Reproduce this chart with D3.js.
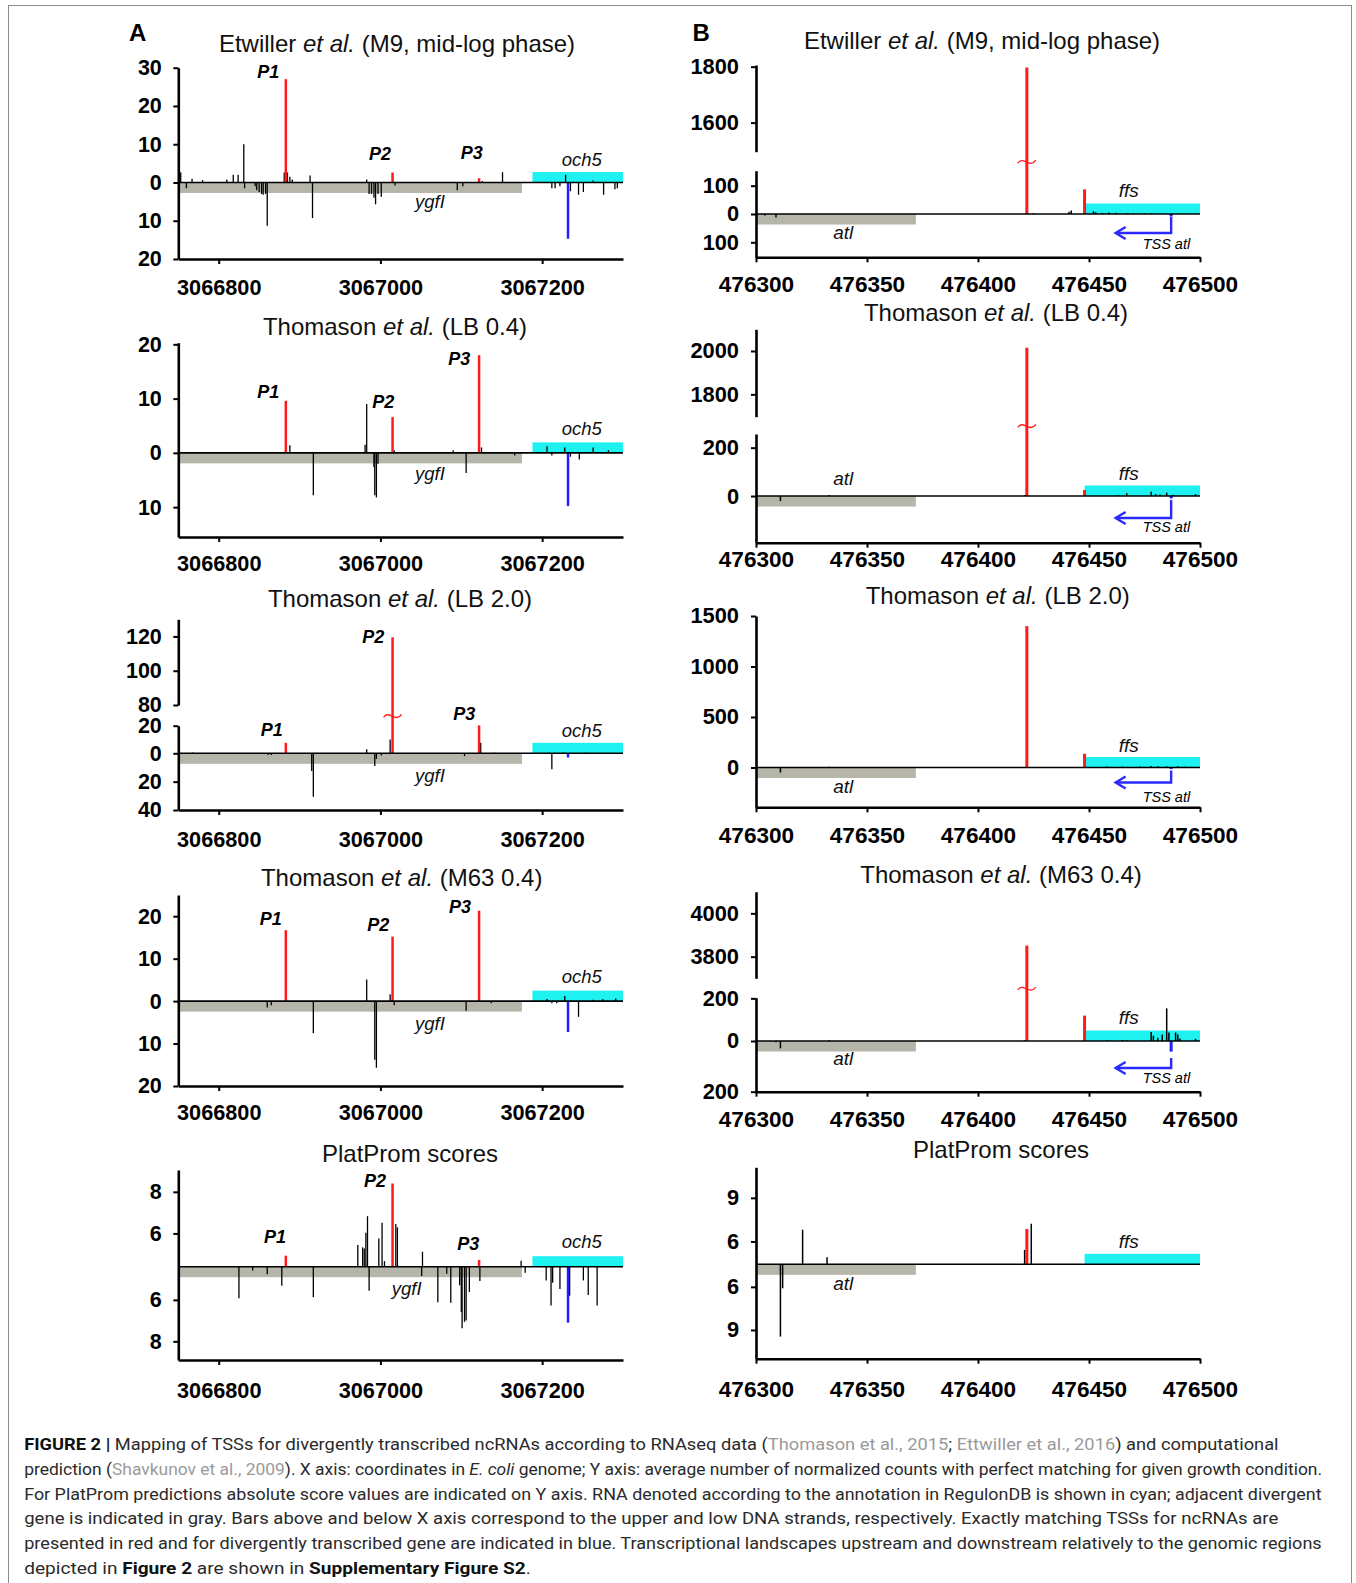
<html>
<head>
<style>
  body { margin: 0; background: #fff; }
  text { font-family: "Liberation Sans", Arial, sans-serif; white-space: pre; }
  .cap { font-family: Roboto, "Liberation Sans", sans-serif; font-size: 16.5px; fill: #2a2a2a; }
</style>
</head>
<body>
<svg id="fig" width="1356" height="1583"></svg>
<script src="https://d3js.org/d3.v7.min.js"></script>
<script>
// ---------- data ----------
// genomic windows and tick labels
const winA = [3066750, 3067300]
const winB = [476300, 476500]
const ticksA = [3066800, 3067000, 3067200]
const ticksB = [476300, 476350, 476400, 476450, 476500]

// annotated genes (visible extent)
const ygfI = [3066750, 3067175]   // divergent gene, lower strand (gray)
const och5 = [3067188, 3067300]   // ncRNA, upper strand (cyan)
const atl = [476300, 476372]
const ffs = [476448, 476500]

// TSSs matching ncRNAs (red) and divergent gene (blue)
const ncTssA = [3066883, 3067015, 3067122]   // P1, P2, P3
const divTssA = [3067232]
const ncTssB = [476422, 476448]
const divTssB = [476487]
const tssAtlArrowEnd = 476462

// bars: [coordinate, value]; negative = lower strand
const etwA = [[3066751,2.7],[3066753,2.7],[3066760,-1.5],[3066767,1],[3066780,0.6],[3066810,0.8],[3066818,2],[3066824,2],[3066831,10],[3066832,-1.5],[3066845,-1],[3066847,-2],[3066850,-2.5],[3066853,-3],[3066855,-3.2],[3066858,-3],[3066860,-11.3],[3066881,2.6],[3066883,27],[3066885,2.6],[3066888,1.5],[3066891,0.8],[3066913,1.8],[3066916,-9.3],[3066983,0.8],[3066986,-3],[3066989,-3],[3066992,-4],[3066994,-5.7],[3066997,-3],[3067001,-3.7],[3067015,2.6],[3067018,-0.8],[3067095,-2],[3067102,-1],[3067122,1.1],[3067126,0.4],[3067151,2.7],[3067212,-1.5],[3067216,-1.5],[3067222,-1],[3067229,2],[3067232,-14.7],[3067235,-2.3],[3067245,-3.2],[3067251,-2.5],[3067263,0.5],[3067276,-3.2],[3067290,-1.8],[3067293,-1.5]]
const lb04A = [[3066883,9.6],[3066888,1.4],[3066917,-7.8],[3066981,1.5],[3066983,9],[3066992,-2.6],[3066993,-7.8],[3066995,-8.2],[3066997,-2],[3067015,6.6],[3067017,0.5],[3067090,0.5],[3067106,-3.7],[3067122,18],[3067125,1],[3067166,-0.5],[3067206,1.2],[3067212,-0.5],[3067228,1],[3067232,-9.8],[3067235,-0.7],[3067246,-1.2],[3067263,1],[3067282,0.5]]
const lb20A = [[3066768,0.5],[3066861,-1.2],[3066865,-1.2],[3066883,7.6],[3066915,-12.4],[3066917,-30.6],[3066983,2.9],[3066993,-9],[3066995,-4],[3067001,-1.5],[3067012,10],[3067015,119.5],[3067104,-2],[3067122,20.2],[3067124,7.6],[3067141,0.5],[3067212,-11.3],[3067226,0.5],[3067232,-3],[3067253,0.4]]
const m63A = [[3066860,-1.5],[3066865,-1],[3066883,16.7],[3066917,-7.6],[3066983,5.1],[3066993,-13.8],[3066995,-15.7],[3067012,1.6],[3067015,15.2],[3067017,-1],[3067106,-2.3],[3067122,21.3],[3067137,-0.5],[3067206,0.5],[3067212,-0.5],[3067218,-0.5],[3067228,1.2],[3067232,-7.3],[3067245,-3.7],[3067263,0.3],[3067275,0.5],[3067291,0.6]]
const platA = [[3066825,-5.92],[3066842,-4.58],[3066860,-4.77],[3066878,-5.32],[3066883,4.93],[3066917,-5.87],[3066972,5.44],[3066978,5.33],[3066980,5.28],[3066982,6.03],[3066984,6.83],[3066986,-5.56],[3066998,5.76],[3067002,6.51],[3067005,4.67],[3067015,8.4],[3067019,6.45],[3067021,6.29],[3067051,-4.85],[3067052,5.12],[3067071,-6.11],[3067082,-4.74],[3067087,-6.14],[3067098,-5.3],[3067100,-6.58],[3067101,-7.37],[3067104,-7.06],[3067106,-7.0],[3067110,-5.62],[3067122,4.72],[3067123,-5.09],[3067174,4.69],[3067179,-4.69],[3067205,-5.06],[3067211,-6.27],[3067213,-5.17],[3067222,-5.48],[3067232,-7.1],[3067234,-5.8],[3067251,-5.06],[3067257,-5.76],[3067268,-6.27]]

const etwB = [[476304,-5],[476309,-12],[476422,1797],[476425,3],[476441,8],[476442,12],[476448,87],[476452,10],[476453,6],[476456,4],[476459,5],[476462,4],[476467,3],[476470,3],[476475,2],[476478,2],[476487,-9],[476498,2]]
const lb04B = [[476311,-21],[476333,4],[476421,4],[476422,2015],[476448,25],[476463,3],[476467,12],[476478,18],[476480,8],[476482,6],[476485,14],[476487,-10],[476488,5],[476498,8]]
const lb20B = [[476311,-50],[476321,5],[476333,8],[476422,1400],[476448,136],[476458,10],[476465,8],[476473,10],[476478,15],[476481,12],[476485,10],[476487,-15],[476490,12],[476493,8],[476498,6]]
const m63B = [[476309,-5],[476311,-29],[476333,4],[476421,3],[476422,3851],[476448,119],[476458,4],[476465,5],[476467,4],[476478,42],[476479,25],[476481,15],[476483,30],[476485,153],[476486,40],[476487,-42],[476489,40],[476490,30],[476491,12],[476498,10]]
const platB = [[476311,-9.46],[476312,-6.1],[476321,6.81],[476332,4.92],[476421,5.42],[476422,6.85],[476424,7.22]]

// titles
const titleEtw = ["Etwiller ", "et al.", " (M9, mid-log phase)"]
const titleLB04 = ["Thomason ", "et al.", " (LB 0.4)"]
const titleLB20 = ["Thomason ", "et al.", " (LB 2.0)"]
const titleM63 = ["Thomason ", "et al.", " (M63 0.4)"]
const titlePlat = ["PlatProm scores"]

// ---------- layout ----------
const svg = d3.select("#fig")
svg.append("rect").attr("x", 8.5).attr("y", 5.5).attr("width", 1343).attr("height", 1590)
    .attr("fill", "none").attr("stroke", "#8a8a8a").attr("stroke-width", 1)

const xA = d3.scaleLinear().domain(winA).range([178.3, 623])
const xB = d3.scaleLinear().domain(winB).range([756, 1200])

const colA = {x: xA, ticks: ticksA, gray: ygfI, cyan: och5, nc: ncTssA, div: divTssA, pad: 11.5, blk: 1.3, red: 2.5, yfs: 21.5, xfs: 21.7}
const colB = {x: xB, ticks: ticksB, gray: atl, cyan: ffs, nc: ncTssB, div: divTssB, pad: 12, blk: 1.5, red: 3, yfs: 21.8, xfs: 22.6}

const panels = [
  {col: colA, bars: etwA, title: titleEtw, tx: 397, ty: 51.7, lab: 36,
   lo: {d: [-20, 30], r: [259, 67.7], t: [-20, -10, 0, 10, 20, 30]},
   pl: [["P1", 0, -17.5, 78.3], ["P2", 1, -12.6, 160], ["P3", 2, -7.4, 159.3]],
   gl: [["ygfI", 430, 208], ["och5", 581.7, 165.7]]},
  {col: colA, bars: lb04A, title: titleLB04, tx: 395, ty: 335, lab: 33.7,
   lo: {d: [-15.5, 20.3], r: [537, 342.7], t: [-10, 0, 10, 20]},
   pl: [["P1", 0, -17.5, 398.3], ["P2", 1, -9.3, 408.3], ["P3", 2, -19.8, 365]],
   gl: [["ygfI", 430, 480], ["och5", 581.7, 435]]},
  {col: colA, bars: lb20A, title: titleLB20, tx: 400, ty: 606.7, lab: 36.7,
   lo: {d: [-40, 0, 20], r: [810, 753.3, 725.7], t: [-40, -20, 0, 20]},
   hi: {d: [80, 130], r: [705, 619.3], t: [80, 100, 120]},
   pl: [["P1", 0, -14.1, 736], ["P2", 1, -19.3, 642.7], ["P3", 2, -14.8, 720]],
   gl: [["ygfI", 430, 781.7], ["och5", 581.7, 736.7]]},
  {col: colA, bars: m63A, title: titleM63, tx: 401.7, ty: 886, lab: 34,
   lo: {d: [-20, 25], r: [1086, 895], t: [-20, -10, 0, 10, 20]},
   pl: [["P1", 0, -15.1, 925], ["P2", 1, -14.3, 931], ["P3", 2, -19.1, 913.3]],
   gl: [["ygfI", 430, 1030], ["och5", 581.7, 983.3]]},
  {col: colA, bars: platA, title: titlePlat, tx: 410, ty: 1161.7, lab: 38,
   lo: {d: [-8.9, -4.4, 4.4, 9.05], r: [1360, 1266.7, 1266.7, 1170], t: [-8, -6, 6, 8]},
   pl: [["P1", 0, -10.8, 1243.3], ["P2", 1, -17.6, 1186.7], ["P3", 2, -10.8, 1250]],
   gl: [["ygfI", 406.7, 1295], ["och5", 581.7, 1248.3]]},

  {col: colB, bars: etwB, title: titleEtw, tx: 982, ty: 49.3, lab: 34.4,
   lo: {d: [-153, 153], r: [257.3, 170.7], t: [-100, 0, 100]},
   hi: {d: [1496, 1806], r: [151.7, 65], t: [1600, 1800]},
   gl: [["atl", 843.3, 239.3], ["ffs", 1128.7, 197.3]], arrow: [3, 19, 35.3]},
  {col: colB, bars: lb04B, title: titleLB04, tx: 996, ty: 320.7, lab: 24,
   lo: {d: [-193, 256.6], r: [542.7, 434], t: [0, 200]},
   hi: {d: [1697, 2100], r: [416.7, 329.3], t: [1800, 2000]},
   gl: [["atl", 843.3, 485], ["ffs", 1128.7, 480]], arrow: [4, 22, 36.3]},
  {col: colB, bars: lb20B, title: titleLB20, tx: 997.7, ty: 604, lab: 35.7,
   lo: {d: [-394, 1500], r: [807.3, 616], t: [0, 500, 1000, 1500]},
   gl: [["atl", 843.3, 793.3], ["ffs", 1128.7, 751.7]], arrow: [3, 15, 34.2]},
  {col: colB, bars: m63B, title: titleM63, tx: 1001, ty: 883.3, lab: 35,
   lo: {d: [-200, 0, 203], r: [1091.7, 1041, 997.7], t: [-200, 0, 200]},
   hi: {d: [3700, 4100], r: [978.3, 891.7], t: [3800, 4000]},
   gl: [["atl", 843.3, 1065], ["ffs", 1128.7, 1024.3]], arrow: [17, 27, 42.3]},
  {col: colB, bars: platB, title: titlePlat, tx: 1001, ty: 1158.3, lab: 38,
   lo: {d: [-11, -4.43, 4.43, 11.1], r: [1358.7, 1264.3, 1264.3, 1167.3], t: [-9, -6, 6, 9]},
   gl: [["atl", 843.3, 1290], ["ffs", 1128.7, 1248.3]]}
]

function styleAxis(g, fs) {
  g.attr("font-family", null).attr("font-size", null)
  g.select(".domain").attr("stroke", "#000").attr("stroke-width", 2.6)
  g.selectAll(".tick line").attr("stroke", "#000").attr("stroke-width", 2)
  g.selectAll(".tick text").attr("fill", "#000")
    .style("font-size", fs + "px").style("font-weight", "bold")
}

panels.forEach(p => {
  const c = p.col, x = c.x
  const x0 = x.range()[0], x1 = x.range()[1]
  const lo = d3.scaleLinear().domain(p.lo.d).range(p.lo.r)
  const hi = p.hi ? d3.scaleLinear().domain(p.hi.d).range(p.hi.r) : null
  const base = lo(0)
  const bottom = p.lo.r[0]
  const g = svg.append("g")

  // title
  const t = g.append("text").attr("x", p.tx).attr("y", p.ty).attr("text-anchor", "middle")
    .style("font-size", "24px").attr("fill", "#111")
  p.title.forEach((s, i) => t.append("tspan").text(s).style("font-style", i == 1 ? "italic" : null))

  // gene boxes
  g.append("rect").attr("x", x(c.gray[0])).attr("width", x(c.gray[1]) - x(c.gray[0]))
    .attr("y", base).attr("height", 10.5).attr("fill", "#b5b5aa")
  g.append("rect").attr("x", x(c.cyan[0])).attr("width", x(c.cyan[1]) - x(c.cyan[0]))
    .attr("y", base - 10.5).attr("height", 10.5).attr("fill", "#1ff0f0")

  // bars
  const kind = d => (d[1] > 0 && c.nc.includes(d[0])) ? "nc" : (d[1] < 0 && c.div.includes(d[0])) ? "div" : "o"
  const yv = v => (hi && v > hi.domain()[0]) ? hi(v) : lo(v)
  const sorted = p.bars.slice().sort((a, b) => (kind(a) == "o" ? 0 : 1) - (kind(b) == "o" ? 0 : 1))
  g.selectAll(".bar").data(sorted).join("line")
    .attr("x1", d => x(d[0])).attr("x2", d => x(d[0]))
    .attr("y1", base).attr("y2", d => yv(d[1]))
    .attr("stroke", d => kind(d) == "nc" ? "#ff1a1a" : kind(d) == "div" ? "#1f1fff" : "#000")
    .attr("stroke-width", d => kind(d) == "o" ? c.blk : c.red)

  // zero line
  g.append("line").attr("x1", x0).attr("x2", x1).attr("y1", base).attr("y2", base)
    .attr("stroke", "#000").attr("stroke-width", 1.6)

  // axis break squiggle on tall bars
  if (hi) {
    const ym = (hi.range()[0] + lo.range()[lo.range().length - 1]) / 2
    p.bars.filter(d => d[1] > hi.domain()[0]).forEach(d => {
      const bx = x(d[0])
      g.append("path")
        .attr("d", `M${bx - 9},${ym + 2} C${bx - 4},${ym - 6} ${bx + 3},${ym + 8} ${bx + 9},${ym - 1}`)
        .attr("fill", "none").attr("stroke", "#ff1a1a").attr("stroke-width", 1.3)
    })
  }

  // axes
  const fmt = d => Math.abs(d)
  const ay = g.append("g").attr("transform", `translate(${x0},0)`)
    .call(d3.axisLeft(lo).tickValues(p.lo.t).tickFormat(fmt).tickSize(5).tickSizeOuter(0).tickPadding(c.pad))
  styleAxis(ay, c.yfs)
  if (hi) {
    const ah = g.append("g").attr("transform", `translate(${x0},0)`)
      .call(d3.axisLeft(hi).tickValues(p.hi.t).tickFormat(fmt).tickSize(5).tickSizeOuter(0).tickPadding(c.pad))
    styleAxis(ah, c.yfs)
  }
  const ax = g.append("g").attr("transform", `translate(0,${bottom})`)
    .call(d3.axisBottom(x).tickValues(c.ticks).tickFormat(d3.format("d"))
      .tickSize(5).tickSizeOuter(0).tickPadding(p.lab - 5 - 0.71 * c.xfs))
  styleAxis(ax, c.xfs)

  // P labels
  if (p.pl) p.pl.forEach(l => {
    g.append("text").attr("x", x(c.nc[l[1]]) + l[2]).attr("y", l[3]).attr("text-anchor", "middle")
      .style("font-size", "18px").style("font-weight", "bold").style("font-style", "italic").text(l[0])
  })
  // gene labels
  p.gl.forEach(l => {
    g.append("text").attr("x", l[1]).attr("y", l[2]).attr("text-anchor", "middle")
      .style("font-size", c === colA ? "18.5px" : "19px").style("font-style", "italic")
      .attr("fill", "#111").text(l[0])
  })
  // TSS atl arrow
  if (p.arrow) {
    const ax0 = x(c.div[0]), ax1 = x(tssAtlArrowEnd)
    const ya = base + p.arrow[0], yb = base + p.arrow[1]
    g.append("path").attr("d", `M${ax0},${ya} V${yb} H${ax1}`)
      .attr("fill", "none").attr("stroke", "#2a2aff").attr("stroke-width", 2.4)
    g.append("path").attr("d", `M${ax1 + 10},${yb - 6} L${ax1},${yb} L${ax1 + 10},${yb + 6}`)
      .attr("fill", "none").attr("stroke", "#2a2aff").attr("stroke-width", 2.4)
    g.append("text").attr("x", 1166.4).attr("y", base + p.arrow[2]).attr("text-anchor", "middle")
      .style("font-size", "14.5px").style("font-style", "italic").text("TSS atl")
  }
})

// panel letters
svg.append("text").attr("x", 129).attr("y", 40.7).style("font-size", "24px").style("font-weight", "bold").text("A")
svg.append("text").attr("x", 692.6).attr("y", 40.7).style("font-size", "24px").style("font-weight", "bold").text("B")

// ---------- caption ----------
const capLines = [
  [["FIGURE 2 | ", "b"], ["Mapping of TSSs for divergently transcribed ncRNAs according to RNAseq data ("], ["Thomason et al., 2015", "g"], ["; "], ["Ettwiller et al., 2016", "g"], [") and computational"]],
  [["prediction ("], ["Shavkunov et al., 2009", "g"], ["). X axis: coordinates in "], ["E. coli", "i"], [" genome; Y axis: average number of normalized counts with perfect matching for given growth condition."]],
  [["For PlatProm predictions absolute score values are indicated on Y axis. RNA denoted according to the annotation in RegulonDB is shown in cyan; adjacent divergent"]],
  [["gene is indicated in gray. Bars above and below X axis correspond to the upper and low DNA strands, respectively. Exactly matching TSSs for ncRNAs are"]],
  [["presented in red and for divergently transcribed gene are indicated in blue. Transcriptional landscapes upstream and downstream relatively to the genomic regions"]],
  [["depicted in "], ["Figure 2", "b"], [" are shown in "], ["Supplementary Figure S2", "b"], ["."]]
]
const capWidths = [1255, 1298, 1298, 1255, 1298, 507]
capLines.forEach((line, i) => {
  const t = svg.append("text").attr("class", "cap")
  line.forEach(s => {
    const ts = t.append("tspan").text(s[0])
    if (s[1] == "b") ts.style("font-weight", "bold").attr("fill", "#111")
    if (s[1] == "i") ts.style("font-style", "italic")
    if (s[1] == "g") ts.attr("fill", "#9a9a9a")
  })
  const w = t.node().getComputedTextLength()
  const sx = capWidths[i] / w
  t.attr("transform", `translate(24.2,${1450 + 24.8 * i}) scale(${sx},1)`)
})
</script>
</body>
</html>
